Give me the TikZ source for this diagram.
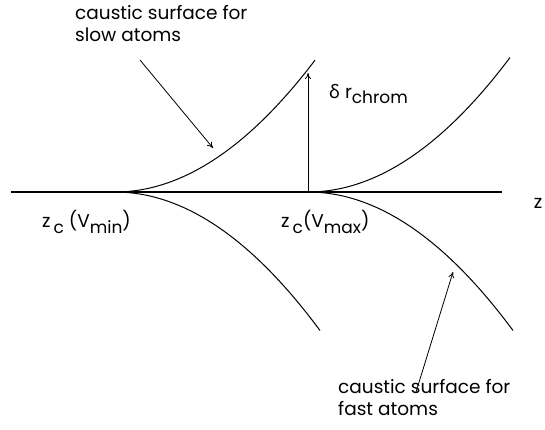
\documentclass[tikz,border=0pt]{standalone}
\usepackage{fontspec}
\setmainfont{Poppins}
\newfontfamily\greekfont{Noto Sans}
\usetikzlibrary{arrows.meta, positioning}
\newcommand{\lowtext}[1]{\raisebox{-0.55ex}{\fontsize{17}{17}\selectfont #1}}

\begin{document}
\begin{tikzpicture}[
  x=1pt, y=-1pt, font=\fontsize{18.5}{22}\selectfont,
  caustic/.style={line width=1pt},
  axis/.style={line width=1.2pt},
  arr/.style={-{To[length=6pt,width=6pt]}, line width=0.8pt},
  lbl/.style={align=left, inner sep=0pt},
]
\useasboundingbox (0,0) rectangle (545,429);
\coordinate (axstart) at (11,192);
\coordinate (axend) at (502,192);
\coordinate (cmin) at (115,192);
\coordinate (cmax) at (308,192);

\draw[axis] (axstart) -- (axend);
\draw[caustic, shift={(cmin)}] plot[domain=0:200, samples=60] (\x, {-0.0033*\x*\x});
\draw[caustic, shift={(cmin)}] plot[domain=0:205, samples=60] (\x, {0.0033*\x*\x});
\draw[caustic, shift={(cmax)}] plot[domain=0:202, samples=60] (\x, {-0.0033*\x*\x});
\draw[caustic, shift={(cmax)}] plot[domain=0:205, samples=60] (\x, {0.0033*\x*\x});

\node[lbl, anchor=north west] (slow) at (75,5) {caustic surface for\\slow atoms};
\node[lbl, anchor=north west] (fast) at (338,379) {caustic surface for\\fast atoms};
\node[anchor=west, inner sep=0pt] (chrom) at (329,94) {{\greekfont δ} r\lowtext{chrom}};
\node[anchor=west, inner sep=0pt] (zmin) at (42,222) {z\,\lowtext{c} (V\lowtext{min})};
\node[anchor=west, inner sep=0pt] (zmax) at (281,222) {z\,\lowtext{c}(V\lowtext{max})};
\node[inner sep=0pt] (zlab) at (538,203) {z};

\coordinate (slowfoot) at (140,60);
\coordinate (slowtip) at (213,148);
\coordinate (fastfoot) at (416,392);
\coordinate (fasttip) at (453,272);
\coordinate (chromtip) at (308,73);

\draw[arr] (slowfoot) -- (slowtip);
\draw[arr] (fastfoot) -- (fasttip);
\draw[arr] (cmax) -- (chromtip);
\end{tikzpicture}
\end{document}
